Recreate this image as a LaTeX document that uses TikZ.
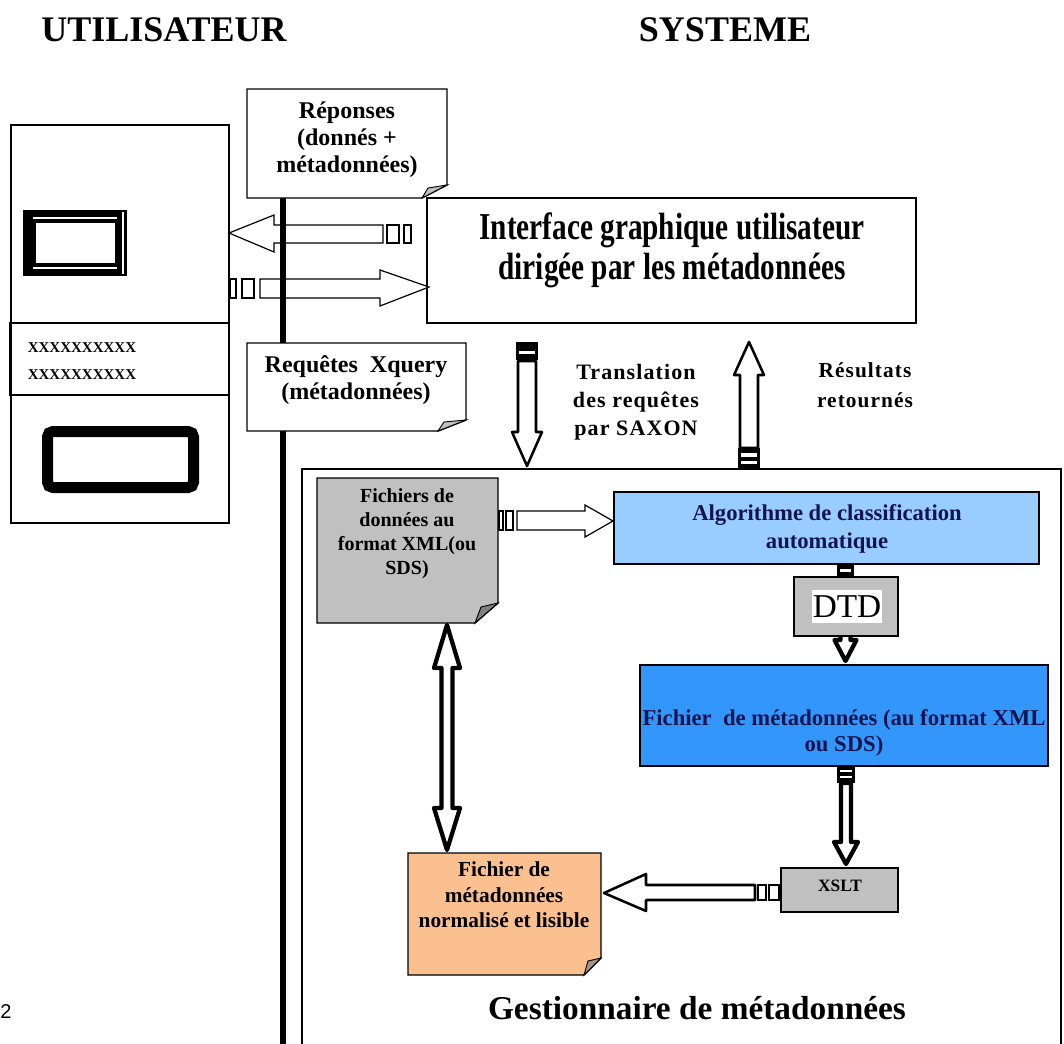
\documentclass[tikz,border=0pt]{standalone}
\usepackage{fontspec}
\setmainfont{Liberation Serif}
\setsansfont{Liberation Sans}
\newfontfamily\condfont[FakeStretch=0.77]{Liberation Serif}
\newfontfamily\spacedfont[LetterSpace=5]{Liberation Serif}
\definecolor{boxgray}{RGB}{192,192,192}
\definecolor{foldgray}{RGB}{128,128,128}
\definecolor{lightblue}{RGB}{153,204,255}
\definecolor{midblue}{RGB}{51,150,250}
\definecolor{peach}{RGB}{250,192,143}
\definecolor{navy}{RGB}{20,20,80}
\begin{document}
\begin{tikzpicture}[x=0.75pt,y=-0.75pt,
  thin/.style={draw=black,line width=0.9pt},
  blockarrow/.style={draw=black,fill=white,line width=0.9pt,line join=miter},
  medarrow/.style={draw=black,fill=white,line width=1.9pt,line join=round},
  heavyarrow/.style={draw=black,fill=white,line width=3.2pt,line join=round},
  txt/.style={inner sep=0pt,align=center},
  title/.style={txt,font=\fontsize{27}{30}\selectfont\bfseries},
  callouttxt/.style={txt,font=\fontsize{18}{20.25}\selectfont\bfseries},
  sidetxt/.style={txt,font=\spacedfont\fontsize{16.5}{21}\selectfont\bfseries},
]
\path[use as bounding box] (0,0) rectangle (1064,1043);
\clip (0,0) rectangle (1064,1043);

% titles
\node[title] (tuser) at (164,30) {UTILISATEUR};
\node[title] (tsys) at (725,30) {SYSTEME};

% user panel
\draw[line width=1.1pt] (11,125) rectangle (229,523);
\draw[line width=2.2pt] (10,323) rectangle (229,395);
\fill (23,210) rectangle (127,276);
\fill[white] (36,223) rectangle (115,263);
\draw[white,line width=0.8pt] (33,218) -- (117,218);
\draw[white,line width=0.8pt] (33,268) -- (117,268);
\draw[white,line width=0.8pt] (123,212) -- (123,274);
\node[txt,font=\fontsize{11.25}{13}\selectfont\bfseries] (x1) at (82,348) {XXXXXXXXXX};
\node[txt,font=\fontsize{11.25}{13}\selectfont\bfseries] (x2) at (82,375) {XXXXXXXXXX};
\draw[line width=8.25pt,rounded corners=4pt] (47.5,431.5) rectangle (193.5,487.5);

% interface box
\draw[line width=1.1pt] (427,198) rectangle (916,323);
\node[txt,font=\condfont\fontsize{28.5}{30}\selectfont\bfseries] (iface) at (672,250)
  {Interface graphique utilisateur\\dirigée par les métadonnées};

% horizontal arrows user <-> interface
\draw[blockarrow] (229,233) -- (274,215) -- (274,225) -- (383,225) -- (383,243) -- (274,243) -- (274,252) -- cycle;
\draw[blockarrow] (387,225) rectangle (399,243);
\draw[blockarrow] (404,225) rectangle (411,243);
\draw[blockarrow] (260,279) -- (380,279) -- (380,270) -- (429,287) -- (380,306) -- (380,298) -- (260,298) -- cycle;
\draw[blockarrow] (230,279) rectangle (236,298);
\draw[blockarrow] (242,279) rectangle (254,298);

% separating thick line
\draw[line width=4.5pt] (283,198) -- (283,1050);

% callouts
\draw[line width=1.1pt,fill=white] (247,89) -- (447,89) -- (447,185) -- (422,198) -- (247,198) -- cycle;
\draw[line width=0.7pt,fill=boxgray] (422,198) -- (428,188) -- (447,185) -- cycle;
\node[callouttxt] (rep) at (347,140) {Réponses\\(donnés +\\métadonnées)};
\draw[line width=1.1pt,fill=white] (247,343) -- (466,343) -- (466,420) -- (438,431) -- (247,431) -- cycle;
\draw[line width=0.7pt,fill=boxgray] (438,431) -- (444,422) -- (466,420) -- cycle;
\node[callouttxt] (req) at (356,380) {Requêtes\ \ Xquery\\(métadonnées)};

% vertical arrows between interface and manager
\fill (516,342) rectangle (538,360);
\fill[white] (519,350.5) rectangle (535,354);
\draw[medarrow] (518,361) -- (536,361) -- (536,432) -- (542,432) -- (527,466) -- (512,432) -- (518,432) -- cycle;
\node[sidetxt] (trans) at (636,402) {Translation\\des requêtes\\par SAXON};

\draw[medarrow] (740,448) -- (740,375) -- (734,375) -- (749,342) -- (764,375) -- (758,375) -- (758,448) -- cycle;
\node[sidetxt,font=\spacedfont\fontsize{16}{22.5}\selectfont\bfseries] (res) at (865,385) {Résultats\\retournés};

% manager container
\draw[line width=1.1pt] (302,1050) -- (302,469) -- (1061,469) -- (1061,1050);
\fill (738,448) rectangle (760,468);
\fill[white] (741,453) rectangle (757,456.5);
\fill[white] (741,460.5) rectangle (757,463.5);

% Fichiers de donnees
\draw[line width=1.1pt,fill=boxgray] (317,478) -- (498,478) -- (498,603) -- (475,623) -- (317,623) -- cycle;
\draw[line width=0.7pt,fill=foldgray] (475,623) -- (481,607) -- (498,603) -- cycle;
\node[txt,font=\fontsize{15}{18}\selectfont\bfseries] (fdon) at (407,534)
  {Fichiers de\\données au\\format XML(ou\\SDS)};

% arrow Fichiers -> Algorithme
\draw[blockarrow] (517,511) -- (585,511) -- (585,505) -- (613,521) -- (585,537) -- (585,530) -- (517,530) -- cycle;
\draw[blockarrow] (499,511) rectangle (503,530);
\draw[blockarrow] (506,511) rectangle (513,530);

% Algorithme
\draw[line width=1.1pt,fill=lightblue] (614,492) rectangle (1039,564);
\node[txt,font=\fontsize{17}{21}\selectfont\bfseries,text=navy] (algo) at (827,529)
  {Algorithme de classification\\automatique};

% arrow Algorithme -> Fichier de metadonnees (through DTD)
\fill (837,564) rectangle (854,578);
\fill[white] (840,569) rectangle (851,571.5);
\draw[heavyarrow] (840.5,577) -- (840.5,640) -- (834.5,640) -- (845.5,661) -- (856.5,640) -- (850.5,640) -- (850.5,577);
\draw[line width=1.1pt,fill=boxgray] (794,577) rectangle (898,636);
\fill[white] (812,590) rectangle (882,623);
\node[txt,font=\fontsize{25}{28}\selectfont] (dtd) at (847,607) {DTD};

% Fichier de metadonnees
\draw[line width=1.1pt,fill=midblue] (640,665) rectangle (1048,766);
\node[txt,font=\fontsize{17}{20}\selectfont\bfseries,text=navy] (fmeta) at (844,733)
  {Fichier\ \ de métadonnées (au format XML\\ou SDS)};

% arrow -> XSLT
\fill (837,766) rectangle (855,783);
\fill[white] (840,770) rectangle (852,772);
\fill[white] (840,776) rectangle (852,778);
\draw[heavyarrow] (841,783) -- (841,842) -- (834,842) -- (846,864) -- (858,842) -- (851,842) -- (851,783) -- cycle;

% XSLT
\draw[line width=1.1pt,fill=boxgray] (781,868) rectangle (898,912);
\node[txt,font=\fontsize{13}{14}\selectfont\bfseries] (xslt) at (840,886) {XSLT};

% arrow XSLT -> normalised file
\draw[medarrow] (755,885) -- (646,885) -- (646,874) -- (604,893) -- (646,911) -- (646,900) -- (755,900) -- cycle;
\draw[line width=1.6pt,fill=white] (758,885) rectangle (766,900);
\draw[line width=1.6pt,fill=white] (769,885) rectangle (779,900);

% double arrow
\draw[heavyarrow] (447,625) -- (460,668) -- (452.5,668) -- (452.5,808) -- (460,808) -- (447,850) -- (434,808) -- (441.5,808) -- (441.5,668) -- (434,668) -- cycle;

% normalised file
\draw[line width=1.1pt,fill=peach] (408,853) -- (601,853) -- (601,958) -- (584,975) -- (408,975) -- cycle;
\draw[line width=0.7pt,fill=foldgray!70!peach] (584,975) -- (588,961) -- (601,958) -- cycle;
\node[txt,font=\fontsize{16}{19}\selectfont\bfseries] (fnorm) at (504,895)
  {Fichier de\\métadonnées\\normalisé et lisible};

% manager label
\node[txt,font=\fontsize{25}{28}\selectfont\bfseries] (gest) at (697,1008) {Gestionnaire de métadonnées};

% page number
\node[txt,font=\sffamily\fontsize{15}{17}\selectfont] (pnum) at (6,1012) {2};
\end{tikzpicture}
\end{document}
